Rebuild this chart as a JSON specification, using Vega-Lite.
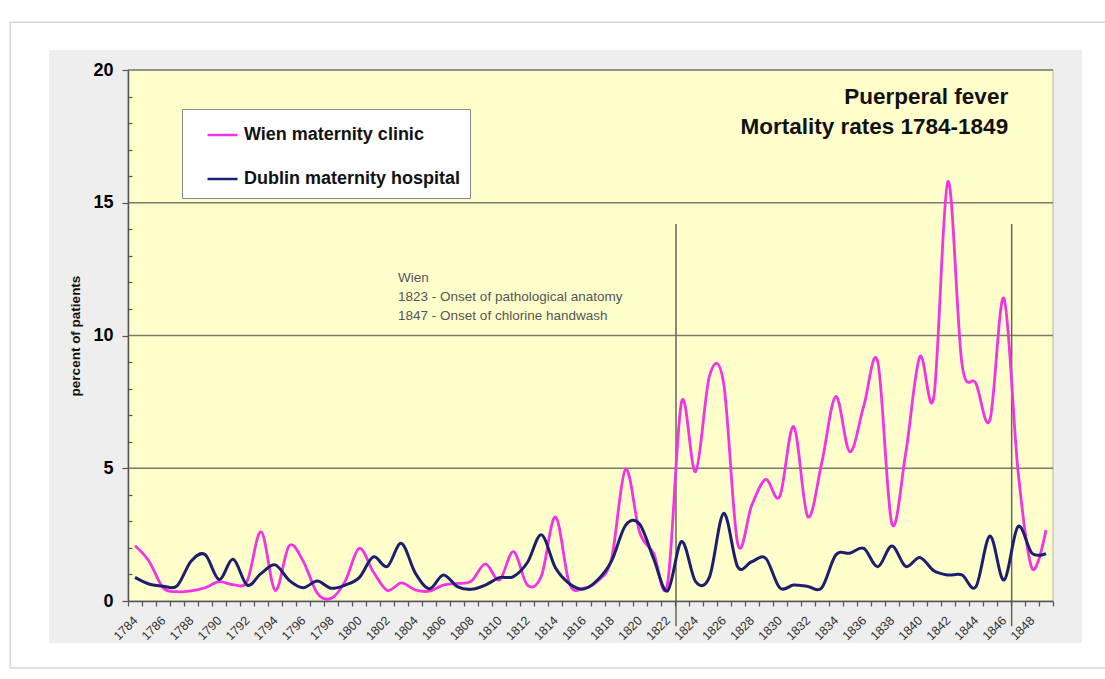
{
  "$schema": "https://vega.github.io/schema/vega-lite/v6.json",
  "width": 925,
  "height": 531,
  "autosize": {"type": "none"},
  "padding": {"left": 128, "top": 70, "right": 52, "bottom": 78},
  "background": "#ffffff",
  "config": {"font": "Liberation Sans", "view": {"stroke": null}},
  "resolve": {"axis": {"x": "independent", "y": "independent"}},
  "datasets": {
    "rates": [
      {"year":1784,"series":"Wien maternity clinic","rate":2.08},
      {"year":1785,"series":"Wien maternity clinic","rate":1.5},
      {"year":1786,"series":"Wien maternity clinic","rate":0.5},
      {"year":1787,"series":"Wien maternity clinic","rate":0.35},
      {"year":1788,"series":"Wien maternity clinic","rate":0.38},
      {"year":1789,"series":"Wien maternity clinic","rate":0.5},
      {"year":1790,"series":"Wien maternity clinic","rate":0.73},
      {"year":1791,"series":"Wien maternity clinic","rate":0.62},
      {"year":1792,"series":"Wien maternity clinic","rate":0.75},
      {"year":1793,"series":"Wien maternity clinic","rate":2.61},
      {"year":1794,"series":"Wien maternity clinic","rate":0.4},
      {"year":1795,"series":"Wien maternity clinic","rate":2.08},
      {"year":1796,"series":"Wien maternity clinic","rate":1.5},
      {"year":1797,"series":"Wien maternity clinic","rate":0.3},
      {"year":1798,"series":"Wien maternity clinic","rate":0.1},
      {"year":1799,"series":"Wien maternity clinic","rate":0.75},
      {"year":1800,"series":"Wien maternity clinic","rate":1.98},
      {"year":1801,"series":"Wien maternity clinic","rate":1.1},
      {"year":1802,"series":"Wien maternity clinic","rate":0.4},
      {"year":1803,"series":"Wien maternity clinic","rate":0.68},
      {"year":1804,"series":"Wien maternity clinic","rate":0.42},
      {"year":1805,"series":"Wien maternity clinic","rate":0.37},
      {"year":1806,"series":"Wien maternity clinic","rate":0.6},
      {"year":1807,"series":"Wien maternity clinic","rate":0.66},
      {"year":1808,"series":"Wien maternity clinic","rate":0.75},
      {"year":1809,"series":"Wien maternity clinic","rate":1.4},
      {"year":1810,"series":"Wien maternity clinic","rate":0.79},
      {"year":1811,"series":"Wien maternity clinic","rate":1.86},
      {"year":1812,"series":"Wien maternity clinic","rate":0.6},
      {"year":1813,"series":"Wien maternity clinic","rate":0.95},
      {"year":1814,"series":"Wien maternity clinic","rate":3.17},
      {"year":1815,"series":"Wien maternity clinic","rate":0.65},
      {"year":1816,"series":"Wien maternity clinic","rate":0.48},
      {"year":1817,"series":"Wien maternity clinic","rate":0.75},
      {"year":1818,"series":"Wien maternity clinic","rate":1.6},
      {"year":1819,"series":"Wien maternity clinic","rate":4.96},
      {"year":1820,"series":"Wien maternity clinic","rate":2.6},
      {"year":1821,"series":"Wien maternity clinic","rate":1.8},
      {"year":1822,"series":"Wien maternity clinic","rate":0.66},
      {"year":1823,"series":"Wien maternity clinic","rate":7.5},
      {"year":1824,"series":"Wien maternity clinic","rate":4.87},
      {"year":1825,"series":"Wien maternity clinic","rate":8.5},
      {"year":1826,"series":"Wien maternity clinic","rate":8.2},
      {"year":1827,"series":"Wien maternity clinic","rate":2.17},
      {"year":1828,"series":"Wien maternity clinic","rate":3.6},
      {"year":1829,"series":"Wien maternity clinic","rate":4.58},
      {"year":1830,"series":"Wien maternity clinic","rate":3.93},
      {"year":1831,"series":"Wien maternity clinic","rate":6.57},
      {"year":1832,"series":"Wien maternity clinic","rate":3.18},
      {"year":1833,"series":"Wien maternity clinic","rate":5.2},
      {"year":1834,"series":"Wien maternity clinic","rate":7.7},
      {"year":1835,"series":"Wien maternity clinic","rate":5.62},
      {"year":1836,"series":"Wien maternity clinic","rate":7.35},
      {"year":1837,"series":"Wien maternity clinic","rate":9.0},
      {"year":1838,"series":"Wien maternity clinic","rate":2.92},
      {"year":1839,"series":"Wien maternity clinic","rate":5.6},
      {"year":1840,"series":"Wien maternity clinic","rate":9.2},
      {"year":1841,"series":"Wien maternity clinic","rate":7.7},
      {"year":1842,"series":"Wien maternity clinic","rate":15.8},
      {"year":1843,"series":"Wien maternity clinic","rate":8.95},
      {"year":1844,"series":"Wien maternity clinic","rate":8.2},
      {"year":1845,"series":"Wien maternity clinic","rate":6.82},
      {"year":1846,"series":"Wien maternity clinic","rate":11.4},
      {"year":1847,"series":"Wien maternity clinic","rate":4.93},
      {"year":1848,"series":"Wien maternity clinic","rate":1.23},
      {"year":1849,"series":"Wien maternity clinic","rate":2.67},
      {"year":1784,"series":"Dublin maternity hospital","rate":0.89},
      {"year":1785,"series":"Dublin maternity hospital","rate":0.64},
      {"year":1786,"series":"Dublin maternity hospital","rate":0.56},
      {"year":1787,"series":"Dublin maternity hospital","rate":0.57},
      {"year":1788,"series":"Dublin maternity hospital","rate":1.5},
      {"year":1789,"series":"Dublin maternity hospital","rate":1.75},
      {"year":1790,"series":"Dublin maternity hospital","rate":0.81},
      {"year":1791,"series":"Dublin maternity hospital","rate":1.57},
      {"year":1792,"series":"Dublin maternity hospital","rate":0.6},
      {"year":1793,"series":"Dublin maternity hospital","rate":1.04},
      {"year":1794,"series":"Dublin maternity hospital","rate":1.36},
      {"year":1795,"series":"Dublin maternity hospital","rate":0.78},
      {"year":1796,"series":"Dublin maternity hospital","rate":0.5},
      {"year":1797,"series":"Dublin maternity hospital","rate":0.75},
      {"year":1798,"series":"Dublin maternity hospital","rate":0.48},
      {"year":1799,"series":"Dublin maternity hospital","rate":0.6},
      {"year":1800,"series":"Dublin maternity hospital","rate":0.88},
      {"year":1801,"series":"Dublin maternity hospital","rate":1.66},
      {"year":1802,"series":"Dublin maternity hospital","rate":1.3},
      {"year":1803,"series":"Dublin maternity hospital","rate":2.17},
      {"year":1804,"series":"Dublin maternity hospital","rate":1.05},
      {"year":1805,"series":"Dublin maternity hospital","rate":0.46},
      {"year":1806,"series":"Dublin maternity hospital","rate":0.98},
      {"year":1807,"series":"Dublin maternity hospital","rate":0.54},
      {"year":1808,"series":"Dublin maternity hospital","rate":0.44},
      {"year":1809,"series":"Dublin maternity hospital","rate":0.6},
      {"year":1810,"series":"Dublin maternity hospital","rate":0.88},
      {"year":1811,"series":"Dublin maternity hospital","rate":0.92},
      {"year":1812,"series":"Dublin maternity hospital","rate":1.45},
      {"year":1813,"series":"Dublin maternity hospital","rate":2.49},
      {"year":1814,"series":"Dublin maternity hospital","rate":1.25},
      {"year":1815,"series":"Dublin maternity hospital","rate":0.65},
      {"year":1816,"series":"Dublin maternity hospital","rate":0.45},
      {"year":1817,"series":"Dublin maternity hospital","rate":0.79},
      {"year":1818,"series":"Dublin maternity hospital","rate":1.5},
      {"year":1819,"series":"Dublin maternity hospital","rate":2.85},
      {"year":1820,"series":"Dublin maternity hospital","rate":2.9},
      {"year":1821,"series":"Dublin maternity hospital","rate":1.6},
      {"year":1822,"series":"Dublin maternity hospital","rate":0.38},
      {"year":1823,"series":"Dublin maternity hospital","rate":2.24},
      {"year":1824,"series":"Dublin maternity hospital","rate":0.73},
      {"year":1825,"series":"Dublin maternity hospital","rate":0.92},
      {"year":1826,"series":"Dublin maternity hospital","rate":3.3},
      {"year":1827,"series":"Dublin maternity hospital","rate":1.29},
      {"year":1828,"series":"Dublin maternity hospital","rate":1.48},
      {"year":1829,"series":"Dublin maternity hospital","rate":1.61},
      {"year":1830,"series":"Dublin maternity hospital","rate":0.5},
      {"year":1831,"series":"Dublin maternity hospital","rate":0.6},
      {"year":1832,"series":"Dublin maternity hospital","rate":0.55},
      {"year":1833,"series":"Dublin maternity hospital","rate":0.5},
      {"year":1834,"series":"Dublin maternity hospital","rate":1.73},
      {"year":1835,"series":"Dublin maternity hospital","rate":1.8},
      {"year":1836,"series":"Dublin maternity hospital","rate":1.98},
      {"year":1837,"series":"Dublin maternity hospital","rate":1.29},
      {"year":1838,"series":"Dublin maternity hospital","rate":2.07},
      {"year":1839,"series":"Dublin maternity hospital","rate":1.3},
      {"year":1840,"series":"Dublin maternity hospital","rate":1.64},
      {"year":1841,"series":"Dublin maternity hospital","rate":1.14},
      {"year":1842,"series":"Dublin maternity hospital","rate":0.98},
      {"year":1843,"series":"Dublin maternity hospital","rate":0.98},
      {"year":1844,"series":"Dublin maternity hospital","rate":0.54},
      {"year":1845,"series":"Dublin maternity hospital","rate":2.45},
      {"year":1846,"series":"Dublin maternity hospital","rate":0.79},
      {"year":1847,"series":"Dublin maternity hospital","rate":2.8},
      {"year":1848,"series":"Dublin maternity hospital","rate":1.8},
      {"year":1849,"series":"Dublin maternity hospital","rate":1.78}
    ],
    "onsets": [
      {"event": "Onset of pathological anatomy", "boundary": 1822.6},
      {"event": "Onset of chlorine handwash", "boundary": 1846.55}
    ],
    "gridlines": [{"level": 5}, {"level": 10}, {"level": 15}, {"level": 20}]
  },
  "layer": [
    {
      "data": {"values": [{}]},
      "mark": {"type": "rect", "fill": "#ffffff", "stroke": "#d6d6d6", "strokeWidth": 1.5},
      "encoding": {
        "x": {"datum": 1775.1, "type": "quantitative", "scale": {"domain": [1783.5, 1849.5], "nice": false, "zero": false}, "axis": null},
        "x2": {"datum": 1853.5},
        "y": {"datum": 21.8, "type": "quantitative", "scale": {"domain": [0, 20], "nice": false}, "axis": null},
        "y2": {"datum": -2.52}
      }
    },
    {
      "data": {"values": [{}]},
      "mark": {"type": "rect", "fill": "#eeeeee"},
      "encoding": {
        "x": {"datum": 1777.86, "type": "quantitative", "scale": {"domain": [1783.5, 1849.5], "nice": false, "zero": false}, "axis": null},
        "x2": {"datum": 1851.57},
        "y": {"datum": 20.75, "type": "quantitative", "scale": {"domain": [0, 20], "nice": false}, "axis": null},
        "y2": {"datum": -1.58}
      }
    },
    {
      "data": {"values": [{}]},
      "mark": {"type": "rect", "fill": "#ffffcc", "stroke": "#b4b4a4", "strokeWidth": 1},
      "encoding": {
        "x": {"datum": 1783.5, "type": "quantitative", "scale": {"domain": [1783.5, 1849.5], "nice": false, "zero": false}, "axis": null},
        "x2": {"datum": 1849.5},
        "y": {"datum": 0, "type": "quantitative", "scale": {"domain": [0, 20], "nice": false}, "axis": null},
        "y2": {"datum": 20}
      }
    },
    {
      "data": {"name": "gridlines"},
      "mark": {"type": "rule", "color": "#7b7b6b", "strokeWidth": 1.5},
      "encoding": {
        "y": {"field": "level", "type": "quantitative", "scale": {"domain": [0, 20], "nice": false}, "axis": null},
        "x": {"datum": 1783.5, "type": "quantitative", "scale": {"domain": [1783.5, 1849.5], "nice": false, "zero": false}, "axis": null},
        "x2": {"datum": 1849.5}
      }
    },
    {
      "data": {"name": "onsets"},
      "mark": {"type": "rule", "color": "#66665a", "strokeWidth": 1.5},
      "encoding": {
        "x": {"field": "boundary", "type": "quantitative", "scale": {"domain": [1783.5, 1849.5], "nice": false, "zero": false}, "axis": null},
        "y": {"datum": 14.2, "type": "quantitative", "scale": {"domain": [0, 20], "nice": false}, "axis": null},
        "y2": {"datum": -0.95}
      }
    },
    {
      "data": {"name": "rates"},
      "transform": [{"filter": "datum.series === 'Wien maternity clinic'"}],
      "mark": {"type": "line", "interpolate": "cardinal", "strokeWidth": 2.8},
      "encoding": {
        "x": {
          "field": "year", "type": "quantitative",
          "scale": {"domain": [1783.5, 1849.5], "nice": false, "zero": false},
          "axis": {
            "orient": "bottom",
            "title": null,
            "values": [1783.5,1784.5,1785.5,1786.5,1787.5,1788.5,1789.5,1790.5,1791.5,1792.5,1793.5,1794.5,1795.5,1796.5,1797.5,1798.5,1799.5,1800.5,1801.5,1802.5,1803.5,1804.5,1805.5,1806.5,1807.5,1808.5,1809.5,1810.5,1811.5,1812.5,1813.5,1814.5,1815.5,1816.5,1817.5,1818.5,1819.5,1820.5,1821.5,1822.5,1823.5,1824.5,1825.5,1826.5,1827.5,1828.5,1829.5,1830.5,1831.5,1832.5,1833.5,1834.5,1835.5,1836.5,1837.5,1838.5,1839.5,1840.5,1841.5,1842.5,1843.5,1844.5,1845.5,1846.5,1847.5,1848.5,1849.5],
            "labels": false,
            "ticks": true,
            "tickSize": 5,
            "tickColor": "#555555",
            "tickWidth": 1.2,
            "domainColor": "#555555",
            "domainWidth": 1.5,
            "grid": false,
            "zindex": 1
          }
        },
        "y": {
          "field": "rate", "type": "quantitative",
          "scale": {"domain": [0, 20], "nice": false},
          "axis": {
            "orient": "left",
            "title": "percent of patients",
            "titleFontSize": 13.5,
            "titleFontWeight": "bold",
            "titleColor": "#111111",
            "titlePadding": 10,
            "values": [0, 5, 10, 15, 20],
            "labelFontSize": 18,
            "labelFontWeight": "bold",
            "labelColor": "#000000",
            "labelPadding": 9,
            "tickSize": 6,
            "tickColor": "#555555",
            "tickWidth": 1.2,
            "domainColor": "#555555",
            "domainWidth": 1.5,
            "grid": false,
            "zindex": 1
          }
        },
        "color": {
          "field": "series", "type": "nominal",
          "scale": {"domain": ["Wien maternity clinic", "Dublin maternity hospital"], "range": ["#f433e6", "#1d1f6e"]},
          "legend": {
            "orient": "none", "legendX": 54, "legendY": 39, "title": null,
            "symbolType": "stroke", "symbolSize": 900, "symbolStrokeWidth": 2.5,
            "symbolOffset": 14.5, "labelOffset": 5, "padding": 9.5, "rowPadding": 18,
            "labelFontSize": 18, "labelFontWeight": "bold", "labelColor": "#111111", "labelLimit": 400,
            "fillColor": "#ffffff", "strokeColor": "#8a8a8a"
          }
        }
      }
    },
    {
      "data": {"name": "rates"},
      "transform": [{"filter": "datum.series === 'Dublin maternity hospital'"}],
      "mark": {"type": "line", "interpolate": "cardinal", "strokeWidth": 3},
      "encoding": {
        "x": {
          "field": "year", "type": "quantitative",
          "scale": {"domain": [1783.5, 1849.5], "nice": false, "zero": false},
          "axis": {
            "orient": "bottom",
            "title": null,
            "values": [1784,1786,1788,1790,1792,1794,1796,1798,1800,1802,1804,1806,1808,1810,1812,1814,1816,1818,1820,1822,1824,1826,1828,1830,1832,1834,1836,1838,1840,1842,1844,1846,1848],
            "format": "d",
            "ticks": false,
            "domain": false,
            "labelAngle": -45,
            "labelAlign": "right",
            "labelBaseline": "middle",
            "labelFontSize": 12.5,
            "labelColor": "#333333",
            "labelPadding": 17,
            "labelFlush": false,
            "labelOverlap": false,
            "grid": false,
            "zindex": 1
          }
        },
        "y": {
          "field": "rate", "type": "quantitative",
          "scale": {"domain": [0, 20], "nice": false},
          "axis": {
            "orient": "left",
            "title": null,
            "values": [1,2,3,4,6,7,8,9,11,12,13,14,16,17,18,19],
            "labels": false,
            "domain": false,
            "tickSize": -4,
            "tickColor": "#555555",
            "tickWidth": 1.2,
            "grid": false,
            "zindex": 1
          }
        },
        "color": {"field": "series", "type": "nominal", "legend": null}
      }
    },
    {
      "data": {"values": [{}]},
      "mark": {"type": "text", "text": ["Puerperal fever", "Mortality rates 1784-1849"], "align": "right", "baseline": "alphabetic", "lineHeight": 30, "fontSize": 22.5, "fontWeight": "bold", "color": "#111111"},
      "encoding": {
        "x": {"datum": 1846.3, "type": "quantitative", "scale": {"domain": [1783.5, 1849.5], "nice": false, "zero": false}, "axis": null},
        "y": {"datum": 18.72, "type": "quantitative", "scale": {"domain": [0, 20], "nice": false}, "axis": null}
      }
    },
    {
      "data": {"values": [{}]},
      "mark": {"type": "text", "text": ["Wien", "1823 - Onset of pathological anatomy", "1847 - Onset of chlorine handwash"], "align": "left", "baseline": "alphabetic", "lineHeight": 19, "fontSize": 13.5, "color": "#555555"},
      "encoding": {
        "x": {"datum": 1802.77, "type": "quantitative", "scale": {"domain": [1783.5, 1849.5], "nice": false, "zero": false}, "axis": null},
        "y": {"datum": 12.0, "type": "quantitative", "scale": {"domain": [0, 20], "nice": false}, "axis": null}
      }
    }
  ]
}
